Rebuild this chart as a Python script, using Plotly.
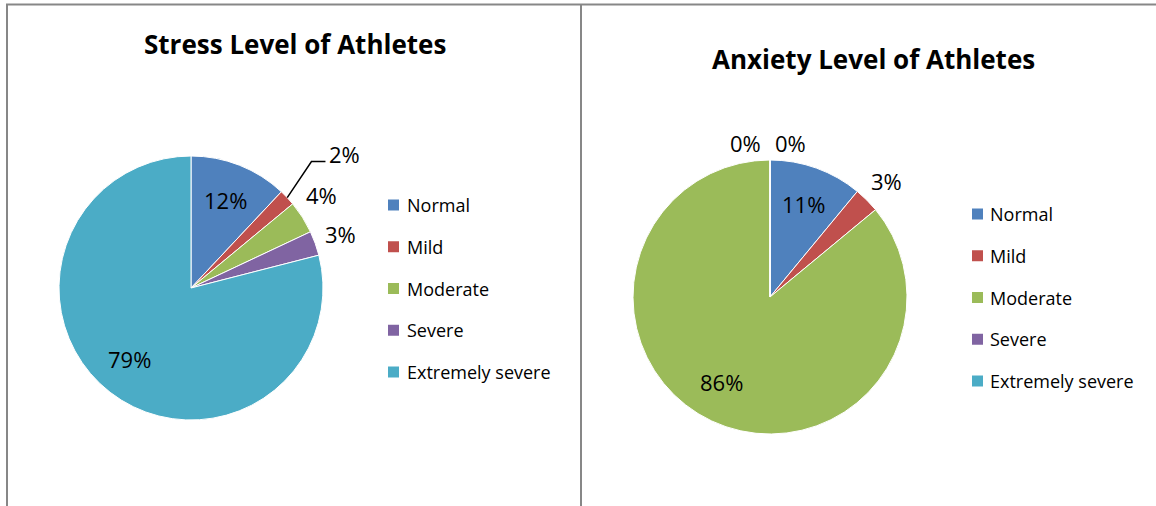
import math
import plotly.graph_objects as go

# ---------------- data ----------------
categories = ["Normal", "Mild", "Moderate", "Severe", "Extremely severe"]
stress_values = [12, 2, 4, 3, 79]
anxiety_values = [11, 3, 86, 0, 0]
chart_titles = ["Stress Level of Athletes", "Anxiety Level of Athletes"]

# ---------------- style / layout ----------------
colors = ["#4F81BD", "#C0504D", "#9BBB59", "#8064A2", "#4BACC6"]
W, H = 1156, 506
FONT = "Open Sans"

pies = [
    dict(values=stress_values, cx=191, cy=288, r=132, title_xy=(295, 44),
         legend_xy=(388, 205), text_x=405,
         nudges={1: (38, -26), 2: (-3, -8), 4: (-3, -4)}, leader={1: True}),
    dict(values=anxiety_values, cx=770, cy=297, r=137, title_xy=(873, 59),
         legend_xy=(972, 214), text_x=988,
         nudges={3: (-25, 10), 4: (20, 10), 2: (-7, -4)}, leader={}),
]
ROW_GAP = 41.75


def px(x):
    return x / W


def py(y):
    return 1 - y / H


fig = go.Figure()
annotations = []
shapes = []

for i, p in enumerate(pies):
    cx, cy, r = p["cx"], p["cy"], p["r"]
    fig.add_trace(go.Pie(
        labels=categories,
        values=p["values"],
        sort=False,
        direction="clockwise",
        rotation=0,
        textinfo="none",
        hoverinfo="label+percent",
        marker=dict(colors=colors, line=dict(color="white", width=1)),
        domain=dict(x=[px(cx - r), px(cx + r)], y=[py(cy + r), py(cy - r)]),
        showlegend=False,
    ))

    # data labels computed from slice geometry
    total = sum(p["values"])
    cum = 0
    for j, v in enumerate(p["values"]):
        frac = v / total
        mid = (cum + frac / 2) * 2 * math.pi
        cum += frac
        k = 0.72 if frac >= 0.08 else 1.2
        lx = cx + k * r * math.sin(mid)
        ly = cy - k * r * math.cos(mid)
        dx, dy = p["nudges"].get(j, (0, 0))
        lx += dx
        ly += dy
        annotations.append(dict(
            x=px(lx), y=py(ly), xref="paper", yref="paper",
            text=f"{round(frac * 100)}%", showarrow=False,
            font=dict(family=FONT, size=22, color="black"),
            xanchor="center", yanchor="middle"))
        if p["leader"].get(j):
            ex = cx + r * math.sin(mid)
            ey = cy - r * math.cos(mid)
            bx, by = lx - 33, ly + 8
            shapes.append(dict(
                type="path", xref="paper", yref="paper",
                path=f"M {px(ex)},{py(ey)} L {px(bx)},{py(by)} L {px(bx + 14)},{py(by)}",
                line=dict(color="black", width=1.5)))

    # title
    tx, ty = p["title_xy"]
    annotations.append(dict(
        x=px(tx), y=py(ty), xref="paper", yref="paper",
        text=f"<b>{chart_titles[i]}</b>", showarrow=False,
        font=dict(family=FONT, size=26, color="black"),
        xanchor="center", yanchor="middle"))

    # legend
    lx0, ly0 = p["legend_xy"]
    for j, cat in enumerate(categories):
        yy = ly0 + j * ROW_GAP
        shapes.append(dict(
            type="rect", xref="paper", yref="paper",
            x0=px(lx0), x1=px(lx0 + 11), y0=py(yy + 5.5), y1=py(yy - 5.5),
            fillcolor=colors[j], line=dict(width=0)))
        annotations.append(dict(
            x=px(p["text_x"]), y=py(yy), xref="paper", yref="paper",
            text=cat, showarrow=False,
            font=dict(family=FONT, size=18, color="black"),
            xanchor="left", yanchor="middle"))

# chart-area borders
border = dict(color="#878787", width=2)
shapes.append(dict(type="line", xref="paper", yref="paper",
                   x0=px(6), x1=px(W), y0=py(4.5), y1=py(4.5), line=border))
shapes.append(dict(type="line", xref="paper", yref="paper",
                   x0=px(7), x1=px(7), y0=py(4), y1=py(H), line=border))
shapes.append(dict(type="line", xref="paper", yref="paper",
                   x0=px(581), x1=px(581), y0=py(4), y1=py(H), line=border))

fig.update_layout(
    width=W, height=H,
    margin=dict(l=0, r=0, t=0, b=0),
    paper_bgcolor="white", plot_bgcolor="white",
    annotations=annotations, shapes=shapes,
    showlegend=False,
)

fig.write_html("out.html")
